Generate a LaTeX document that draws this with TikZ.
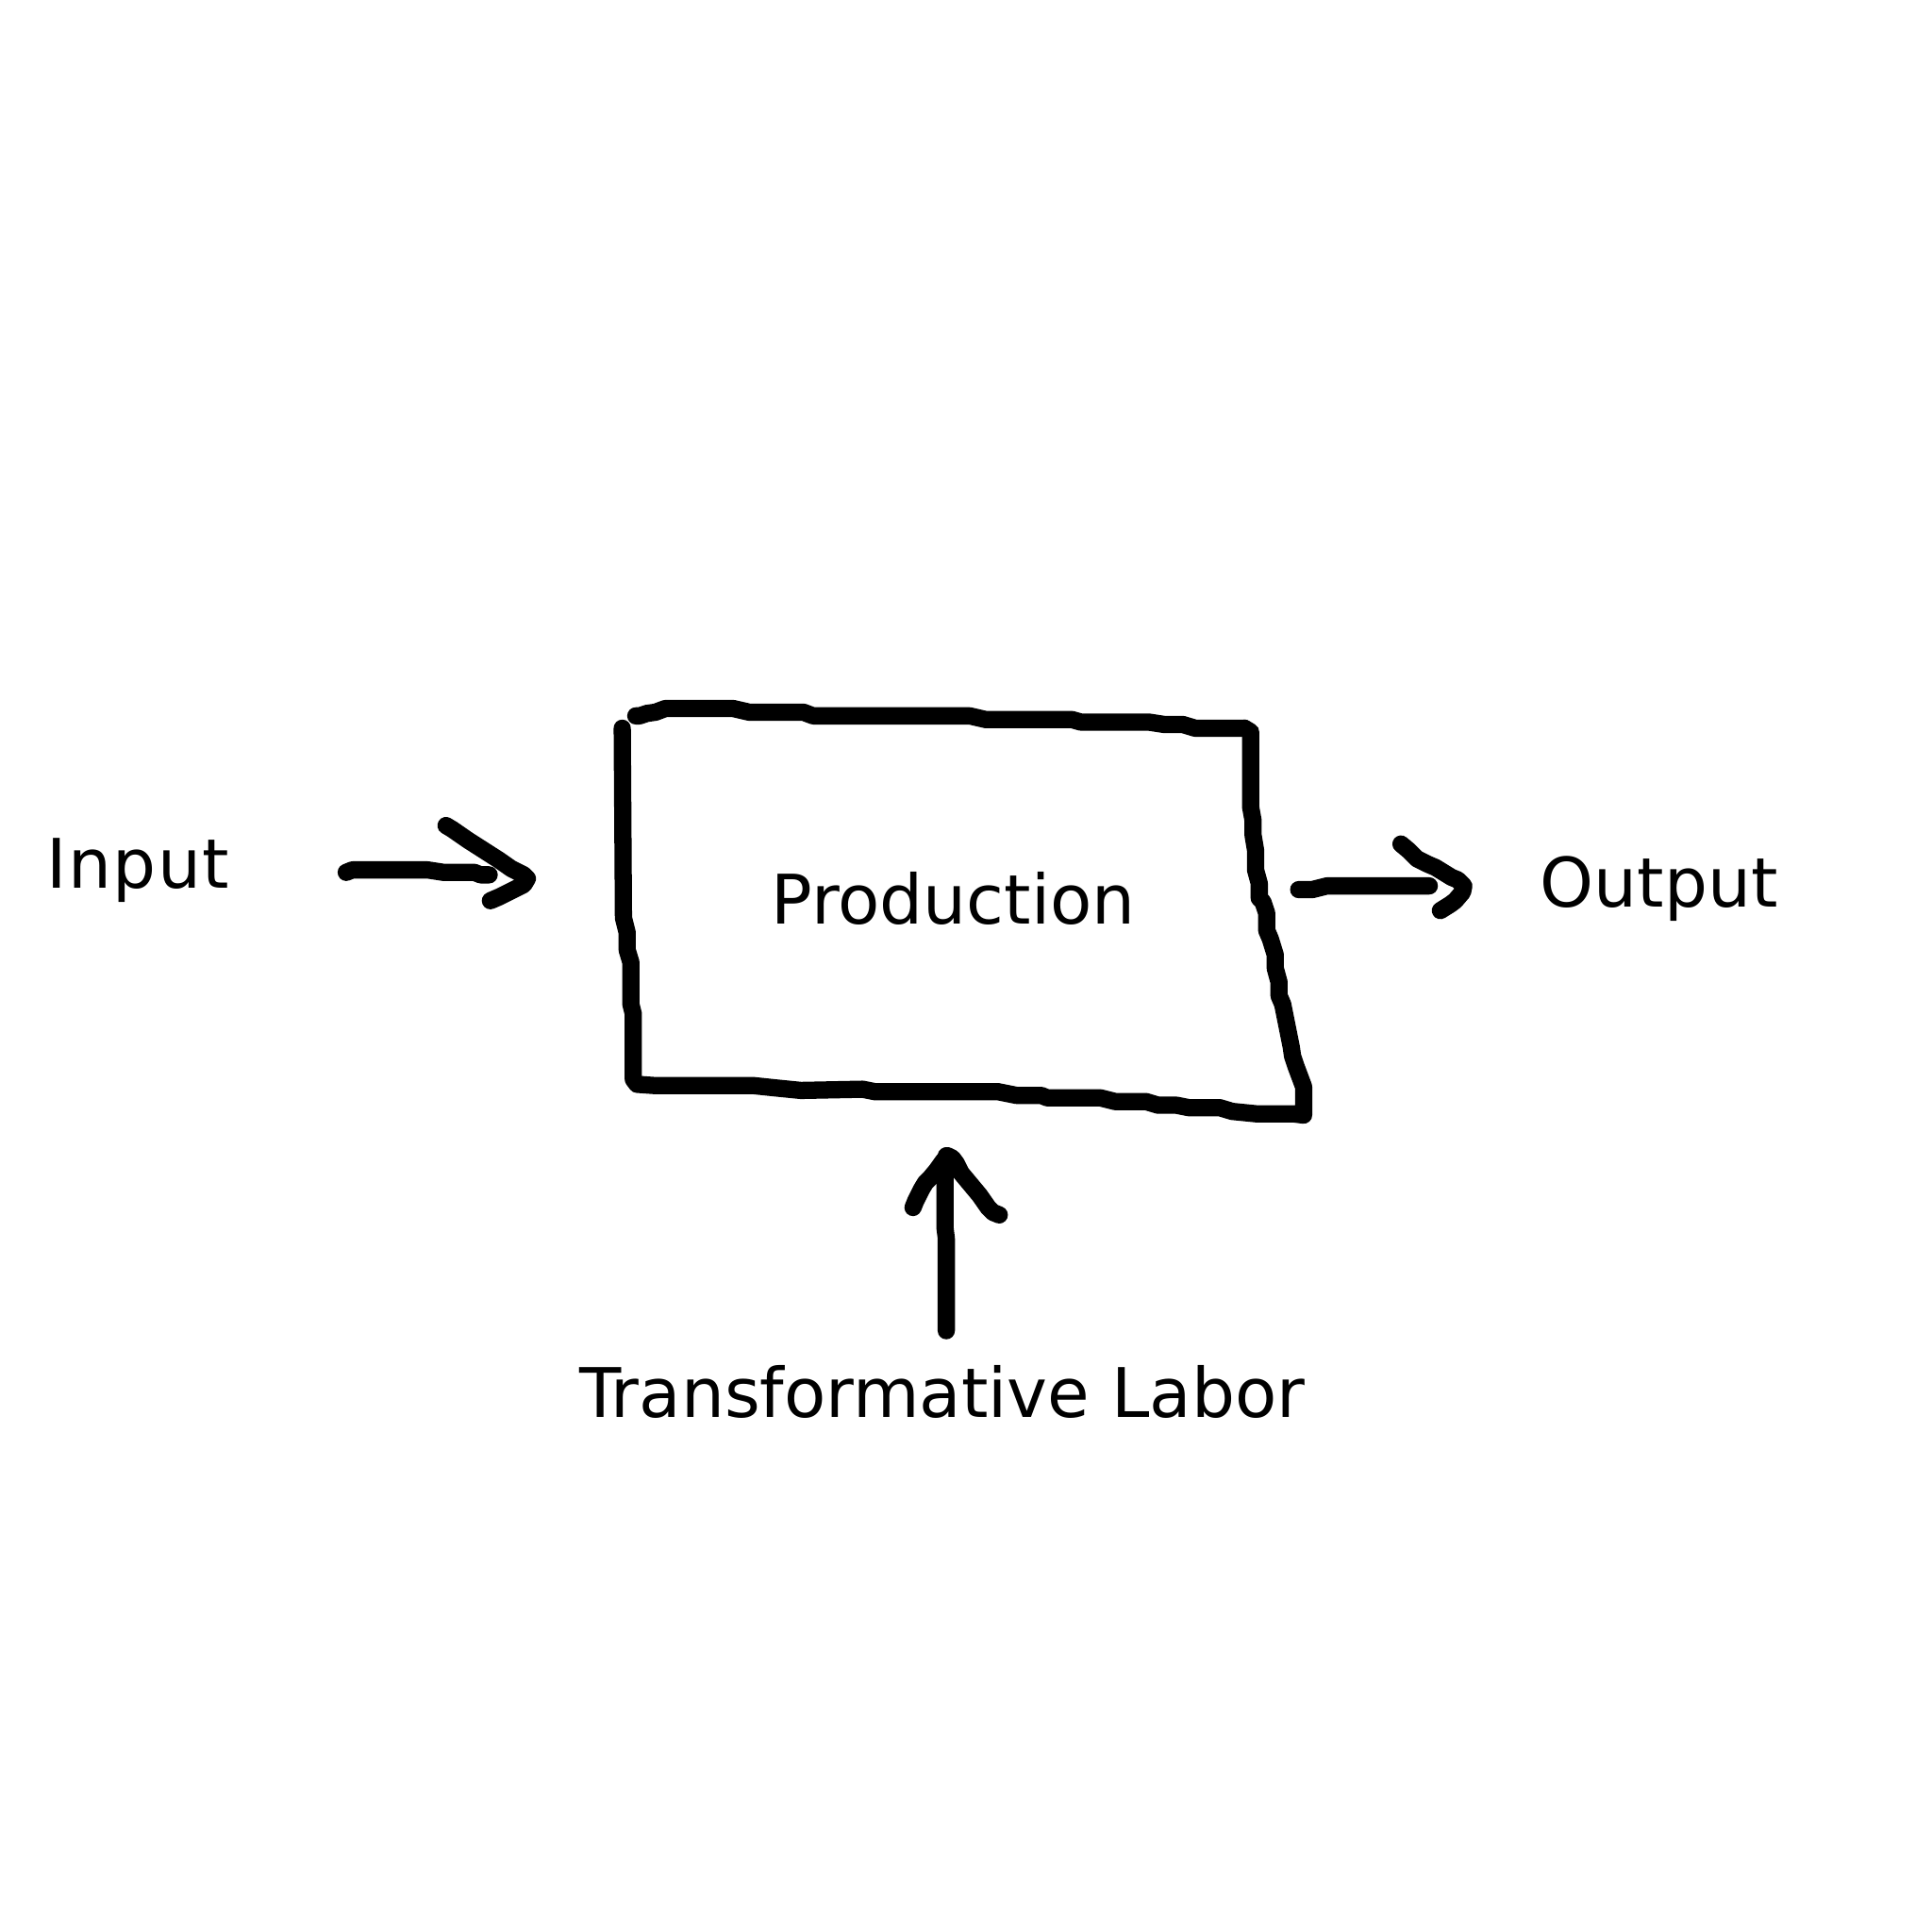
\documentclass[tikz,border=0pt]{standalone}
\usepackage{fontspec}
\setmainfont{DejaVu Sans}
\begin{document}
\begin{tikzpicture}[x=1pt,y=-1pt,
  ink/.style={line width=14pt,line cap=round,line join=round,black},
  lbl/.style={inner sep=0pt,anchor=base west,font=\fontsize{55.5}{60}\selectfont}]
\useasboundingbox[fill=white] (0,0) rectangle (1568,1568);
% labels
\node[lbl] (input) at (38,721) {I\kern1pt n\kern1pt p\kern1pt u\kern1pt t};
\node[lbl] (prod) at (626,750) {Production};
\node[lbl] (output) at (1250,736) {Output};
\node[lbl] (labor) at (470,1150) {Transformative Labor};
% box: left + bottom + right
\draw[ink] (505,591) -- (506,745) -- (509,757) -- (509,771) -- (512,781) -- (512,815) -- (514,823) -- (514,876) -- (517,880)
  -- (531,881) -- (611,881) -- (630,883) -- (650,885) -- (700,884) -- (710,886) -- (810,886) -- (825,889) -- (845,889)
  -- (850,891) -- (893,891) -- (905,894) -- (930,894) -- (940,897) -- (955,897) -- (965,899) -- (990,899) -- (1000,902)
  -- (1020,904) -- (1050,904) -- (1058,905) -- (1058,882) -- (1052,866) -- (1049,857) -- (1048,850) -- (1044,830)
  -- (1041,815) -- (1038,808) -- (1038,797) -- (1035,786) -- (1035,775) -- (1031,762) -- (1028,755) -- (1028,741)
  -- (1025,732) -- (1022,729) -- (1022,717) -- (1019,706) -- (1019,690) -- (1017,678) -- (1017,666) -- (1015,655)
  -- (1015,594) -- (1010,591);
% box top
\draw[ink] (1010,591) -- (970,591) -- (960,588) -- (945,588) -- (932,586) -- (877,586) -- (870,584) -- (800,584)
  -- (787,581) -- (660,581) -- (652,578) -- (608,578) -- (595,575) -- (540,575) -- (532,578) -- (525,579) -- (519,581) -- (516,581);
% input arrow
\coordinate (inS) at (281,708);
\coordinate (inT) at (428,713);
\draw[ink] (inS) -- (286,706) -- (347,706) -- (360,708) -- (385,708) -- (390,710) -- (397,710);
\draw[ink] (362,670) -- (367,673) -- (380,682) -- (405,698) -- (415,705) -- (425,710) -- (inT) -- (425,718) -- (415,723) -- (405,728) -- (398,731);
% output arrow
\coordinate (outS) at (1054,722);
\coordinate (outT) at (1188,719);
\draw[ink] (outS) -- (1065,722) -- (1077,719) -- (1160,719);
\draw[ink] (1137,685) -- (1143,690) -- (1150,697) -- (1158,701) -- (1165,704) -- (1178,712) -- (1183,714) -- (outT) -- (1187,724) -- (1181,731) -- (1177,734) -- (1169,739);
% labor arrow
\coordinate (labS) at (768,1080);
\coordinate (labT) at (768,938);
\draw[ink] (labS) -- (768,1005) -- (767,997) -- (767,945) -- (labT);
\draw[ink] (741,980) -- (743,975) -- (748,965) -- (751,960) -- (755,956) -- (760,950) -- (765,943) -- (769,938) -- (773,940) -- (776,944) -- (780,952) -- (785,958) -- (795,970) -- (802,980) -- (806,984) -- (811,986);
\end{tikzpicture}
\end{document}
